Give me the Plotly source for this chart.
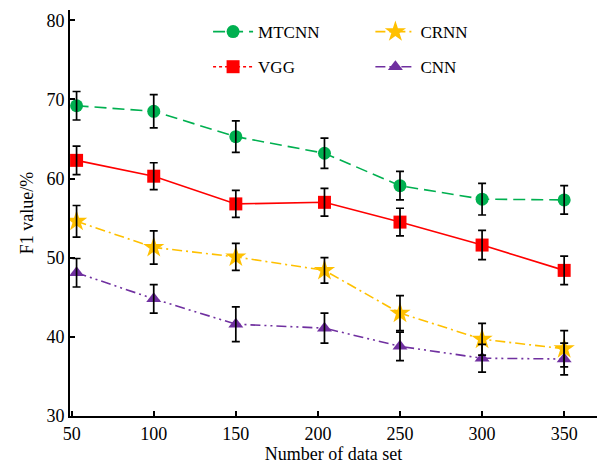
import plotly.graph_objects as go

data_set = [53, 100, 150, 204, 250, 300, 350]

mtcnn = [69.2, 68.5, 65.3, 63.2, 59.1, 57.4, 57.3]
mtcnn_err = [1.8, 2.1, 2.0, 1.9, 1.8, 2.0, 1.8]

vgg = [62.3, 60.3, 56.8, 57.0, 54.5, 51.6, 48.4]
vgg_err = [1.8, 1.7, 1.7, 1.75, 1.75, 1.85, 1.8]

crnn = [54.6, 51.3, 50.1, 48.4, 43.0, 39.7, 38.5]
crnn_err = [2.0, 2.1, 1.7, 1.6, 2.2, 2.0, 2.3]

cnn = [48.1, 44.8, 41.6, 41.1, 38.8, 37.3, 37.2]
cnn_err = [1.8, 1.8, 2.2, 1.9, 1.8, 1.75, 2.0]

names = ["MTCNN", "VGG", "CRNN", "CNN"]
values = [mtcnn, vgg, crnn, cnn]
errors = [mtcnn_err, vgg_err, crnn_err, cnn_err]
colors = ["#00B050", "#FF0000", "#FFC000", "#7030A0"]
symbols = ["circle", "square", "star", "triangle-up"]
sizes = [13, 13, 16, 13]
dashes = ["12px,6px", "solid", "10px,4px,2px,4px", "10px,4px,2px,4px,2px,4px"]
legend_dashes = ["12px,6px", "dot", "10px,4px,2px,4px", "10px,4px,2px,4px,2px,4px"]
legends = ["legend", "legend", "legend2", "legend2"]

font_family = "Liberation Serif, Times New Roman, serif"

fig = go.Figure()

for i in range(4):
    fig.add_trace(go.Scatter(
        x=data_set, y=values[i], mode="lines+markers", name=names[i],
        line=dict(color=colors[i], width=1.6, dash=dashes[i]),
        marker=dict(symbol=symbols[i], size=sizes[i], color=colors[i]),
        showlegend=False,
    ))

# error bars drawn on top of the markers
for i in range(4):
    fig.add_trace(go.Scatter(
        x=data_set, y=values[i], mode="markers",
        marker=dict(size=1, color="rgba(0,0,0,0)"),
        error_y=dict(type="data", array=errors[i], visible=True,
                     color="black", thickness=1.7, width=4),
        showlegend=False, hoverinfo="skip",
    ))

# legend entries
for i in range(4):
    fig.add_trace(go.Scatter(
        x=[None], y=[None], mode="lines+markers", name=names[i],
        line=dict(color=colors[i], width=1.6, dash=legend_dashes[i]),
        marker=dict(symbol=symbols[i], size=sizes[i], color=colors[i]),
        legend=legends[i], legendgroup=names[i],
    ))

legend_common = dict(
    font=dict(family=font_family, size=17, color="black"),
    bgcolor="rgba(0,0,0,0)", borderwidth=0,
    tracegroupgap=10, traceorder="grouped",
    xanchor="left", yanchor="top", itemwidth=40,
)

fig.update_layout(
    width=601, height=468,
    margin=dict(l=70, r=4, t=10, b=52),
    paper_bgcolor="white", plot_bgcolor="white",
    font=dict(family=font_family, size=18, color="black"),
    legend=dict(x=0.262, y=0.99, **legend_common),
    legend2=dict(x=0.57, y=0.99, **legend_common),
    xaxis=dict(
        range=[49, 370], tickvals=[50, 100, 150, 200, 250, 300, 350],
        ticks="inside", ticklen=5, tickwidth=1.5, tickcolor="black",
        showline=True, linecolor="black", linewidth=2,
        showgrid=False, zeroline=False,
        tickfont=dict(family=font_family, size=18),
        title=dict(text="Number of data set", font=dict(family=font_family, size=18), standoff=4),
    ),
    yaxis=dict(
        range=[30, 81.3], tickvals=[30, 40, 50, 60, 70, 80],
        ticks="inside", ticklen=5, tickwidth=1.5, tickcolor="black",
        showline=True, linecolor="black", linewidth=2,
        showgrid=False, zeroline=False,
        tickfont=dict(family=font_family, size=18),
        title=dict(text="F1 value/%", font=dict(family=font_family, size=18), standoff=8),
    ),
)

fig.write_html("out.html", config={"displayModeBar": False},
               post_script="document.body.style.margin='0';")
